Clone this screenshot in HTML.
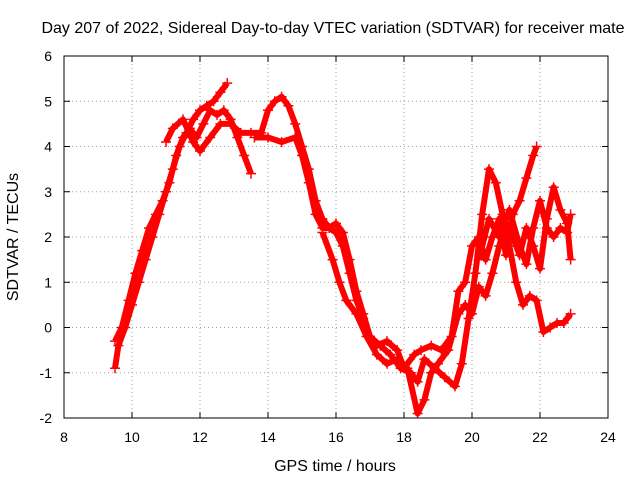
<!DOCTYPE html>
<html><head><meta charset="utf-8"><style>
body{margin:0;background:#fff}
svg{display:block;font-family:"Liberation Sans",sans-serif;font-size:14px}
</style></head><body>
<svg id="chart" width="640" height="480">
<rect width="640" height="480" fill="#fff"/>
<text x="333" y="33" text-anchor="middle" style="font-size:16px">Day 207 of 2022, Sidereal Day-to-day VTEC variation (SDTVAR) for receiver mate</text>
<g id="grid"></g>
<g id="axes"></g>
<g id="series"></g>
<rect x="64" y="56" width="544" height="362" fill="none" stroke="#000"/>
<text x="335" y="471" text-anchor="middle" style="font-size:16px">GPS time / hours</text>
<text transform="translate(18,237) rotate(-90)" text-anchor="middle" style="font-size:16px">SDTVAR / TECUs</text>
</svg>
<script>
const xTicks=[8,10,12,14,16,18,20,22,24];
const yTicks=[-2,-1,0,1,2,3,4,5,6];
const trackA=[[9.5,-0.9],[9.6,-0.4],[9.8,0],[10,0.5],[10.2,1],[10.4,1.5],[10.6,2],[10.8,2.5],[11,3],[11.2,3.5],[11.4,4],[11.6,4.3],[11.8,4.6],[12,4.8],[12.2,4.9],[12.4,5.0],[12.6,5.2],[12.8,5.4]];
const trackB=[[9.5,-0.3],[9.7,0],[9.9,0.6],[10.1,1.2],[10.3,1.7],[10.5,2.2],[10.7,2.5],[10.9,2.8],[11.1,3.2],[11.3,3.8],[11.5,4.2],[11.7,4.4],[11.9,4.2],[12.1,4.5],[12.3,4.8],[12.5,4.7],[12.7,4.8],[12.9,4.6],[13.1,4.2],[13.3,3.8],[13.5,3.4]];
const trackC=[[11.0,4.1],[11.2,4.4],[11.5,4.6],[11.8,4.1],[12.0,3.9],[12.3,4.2],[12.6,4.5],[12.9,4.5],[13.2,4.3],[13.5,4.3],[13.8,4.3],[14.0,4.8],[14.2,5.0],[14.4,5.1],[14.6,4.9],[14.8,4.5],[15.0,4.0],[15.2,3.5],[15.4,2.8],[15.6,2.4],[15.8,2.2],[16.0,2.1],[16.2,1.8],[16.4,1.2],[16.6,0.6],[16.8,0.2],[17.0,-0.2],[17.3,-0.4],[17.6,-0.6],[17.9,-0.9],[18.2,-1.0],[18.4,-1.2],[18.6,-0.7],[18.9,-0.9],[19.2,-1.1],[19.5,-1.3],[19.7,-0.8],[19.9,0.2],[20.1,1.2],[20.3,2.5],[20.5,3.5],[20.7,3.2],[20.9,2.5],[21.1,1.8],[21.3,1.0],[21.5,0.5],[21.7,0.7],[21.9,0.6],[22.1,-0.1],[22.3,0.0],[22.5,0.1],[22.7,0.1],[22.9,0.3]];
const trackD=[[13.6,4.2],[14,4.2],[14.4,4.1],[14.8,4.2],[15.0,3.8],[15.2,3.2],[15.4,2.5],[15.6,2.2],[15.8,2.2],[16.0,2.3],[16.2,2.1],[16.4,1.5],[16.6,0.8],[16.8,0.3],[17.0,-0.2],[17.2,-0.4],[17.5,-0.3],[17.8,-0.5],[18.0,-0.9],[18.3,-0.6],[18.5,-0.5],[18.8,-0.4],[19.1,-0.5],[19.4,-0.2],[19.6,0.8],[19.8,1.0],[20.0,1.8],[20.2,2.0],[20.4,1.5],[20.6,2.0],[20.8,2.4],[21.0,1.6],[21.2,2.5],[21.4,2.8],[21.6,3.3],[21.8,3.8],[21.9,4.0]];
const trackE=[[15.6,2.1],[15.9,1.5],[16.1,1.0],[16.3,0.6],[16.6,0.3],[16.9,-0.2],[17.2,-0.6],[17.5,-0.8],[17.8,-0.7],[18.1,-0.9],[18.4,-1.9],[18.6,-1.6],[18.8,-1.0],[19.0,-0.8],[19.3,-0.5],[19.6,0.3],[19.8,0.5],[20.0,0.3],[20.2,0.9],[20.4,0.7],[20.6,1.2],[20.8,1.8],[21.0,2.3],[21.2,2.0],[21.4,1.6],[21.6,2.2],[21.8,1.8],[22.0,1.3],[22.2,2.4],[22.4,3.1],[22.6,2.6],[22.8,2.3],[22.9,1.5]];
const trackF=[[20.2,1.5],[20.5,2.4],[20.8,2.0],[21.1,2.6],[21.4,1.8],[21.6,1.4],[21.8,2.2],[22.0,2.8],[22.2,2.2],[22.4,2.0],[22.6,2.2],[22.8,2.1],[22.9,2.5]];
const tracks=[trackA,trackB,trackC,trackD,trackE,trackF];

const NS="http://www.w3.org/2000/svg";
const X=v=>64+(v-8)*(544/16);
const Y=v=>418-(v+2)*(362/8);
function mk(tag,parent,attrs){const e=document.createElementNS(NS,tag);for(const k in attrs)e.setAttribute(k,attrs[k]);parent.appendChild(e);return e;}
const grid=document.getElementById('grid'),axes=document.getElementById('axes'),ser=document.getElementById('series');
xTicks.forEach(t=>{
  if(t>8&&t<24){const g=mk('line',grid,{x1:X(t),x2:X(t),y1:56,y2:418,stroke:'#a0a0a0','stroke-dasharray':'1,3'});
  
  }
  const tk=mk('line',axes,{x1:X(t),x2:X(t),y1:418,y2:412,stroke:'#000'});
  
  
  const tk2=mk('line',axes,{x1:X(t),x2:X(t),y1:56,y2:62,stroke:'#000'});
  
  
  const l=mk('text',axes,{x:X(t),y:442,'text-anchor':'middle'});l.textContent=t;
  
  
});
yTicks.forEach(t=>{
  if(t>-2&&t<6){const g=mk('line',grid,{x1:64,x2:608,y1:Y(t),y2:Y(t),stroke:'#a0a0a0','stroke-dasharray':'1,3'});
  
  }
  const tk=mk('line',axes,{x1:64,x2:70,y1:Y(t),y2:Y(t),stroke:'#000'});
  
  
  const tk2=mk('line',axes,{x1:602,x2:608,y1:Y(t),y2:Y(t),stroke:'#000'});
  
  
  const l=mk('text',axes,{x:52,y:Y(t)+5,'text-anchor':'end'});l.textContent=t;
  
  
});
tracks.forEach((tr,i)=>{
  const pl=mk('polyline',ser,{points:tr.map(p=>X(p[0])+','+Y(p[1])).join(' '),fill:'none',stroke:'#f00','stroke-width':6,'stroke-linejoin':'round'});
  
  
  tr.forEach(p=>{
    const x=X(p[0]),y=Y(p[1]);
    const m=mk('path',ser,{d:`M${x-5},${y}H${x+5}M${x},${y-5}V${y+5}`,stroke:'#f00','stroke-width':1.5});
    
    
  });
});
</script>
</body></html>
